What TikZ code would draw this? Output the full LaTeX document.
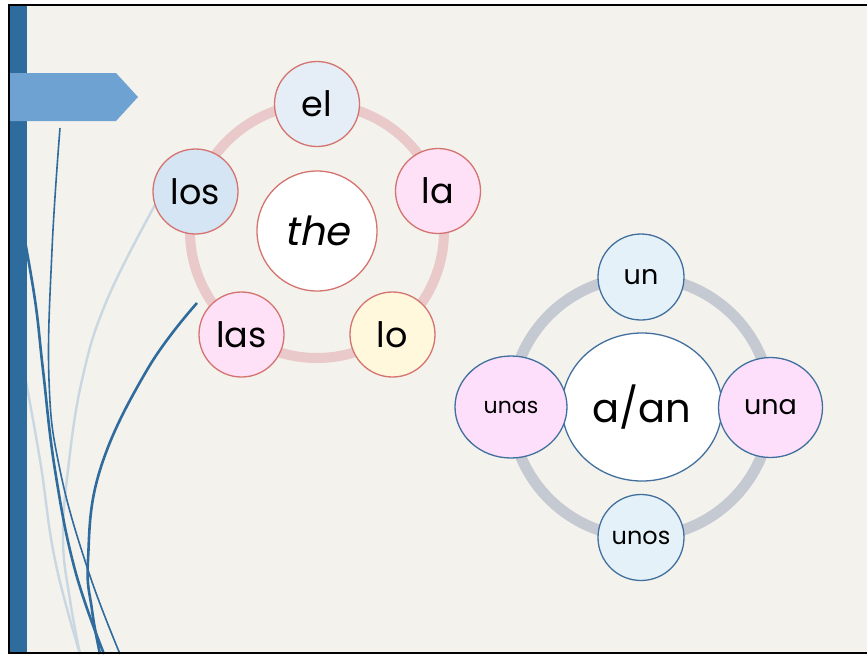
\documentclass[tikz,border=0pt]{standalone}
\usepackage{fontspec}
\setmainfont{Poppins}
\newfontfamily\slantfont[FakeSlant=0.2]{Poppins}
\usetikzlibrary{shapes.geometric}
\definecolor{bgcream}{HTML}{F4F2EC}
\definecolor{barblue}{HTML}{2D6C9C}
\definecolor{arrowblue}{HTML}{6EA2D3}
\definecolor{wispdark}{HTML}{2F6B9D}
\definecolor{wisplight}{HTML}{C9D7E2}
\definecolor{pinkring}{HTML}{E9C9C9}
\definecolor{redline}{HTML}{D4736F}
\definecolor{elfill}{HTML}{E5EEF6}
\definecolor{losfill}{HTML}{D5E5F3}
\definecolor{pinkfill}{HTML}{FEE0F7}
\definecolor{yellowfill}{HTML}{FFF8DC}
\definecolor{grayring}{HTML}{C4C9D2}
\definecolor{blueline}{HTML}{41709F}
\definecolor{unfill}{HTML}{E4F1F8}
\definecolor{unafill}{HTML}{FEDFFB}
\tikzset{
  lsat/.style={circle, draw=redline, line width=1.3pt, minimum size=85pt, inner sep=0pt,
    font=\fontsize{35}{40}\selectfont},
  rsat/.style={ellipse, draw=blueline, line width=1.3pt, inner sep=0pt},
  ringL/.style={draw=pinkring, line width=10pt},
  ringR/.style={draw=grayring, line width=11pt},
  wispd/.style={draw=wispdark, line width=2.6pt},
  wispt/.style={draw=wispdark, line width=1.6pt},
  wispl/.style={draw=wisplight, line width=2.4pt}
}
\begin{document}
\begin{tikzpicture}[x=1pt,y=-1pt]
\useasboundingbox (0,0) rectangle (867,654);
\fill[white] (0,0) rectangle (867,654);
\fill[bgcream] (9,5) rectangle (867,653);
% wisps
\draw[wispl] plot[smooth, tension=0.7] coordinates {(155,205) (107,300) (82,380) (68,470) (63,540) (70,600) (80,654)};
\draw[wispl] plot[smooth, tension=0.7] coordinates {(22,360) (40,460) (55,560) (80,654)};
\draw[wispt] plot[smooth, tension=0.7] coordinates {(60,128) (52,250) (49,380) (60,470) (88,570) (120,654)};
\draw[wispd] plot[smooth, tension=0.7] coordinates {(22,225) (35,300) (43,370) (55,470) (75,570) (104,654)};
\draw[wispd] plot[smooth, tension=0.7] coordinates {(197,303) (147,370) (100,470) (88,560) (92,610) (100,654)};
% bar and arrow
\fill[barblue] (10,5) rectangle (27,653);
\fill[arrowblue] (10,73) -- (116,73) -- (138,97) -- (116,121) -- (10,121) -- cycle;
% frame
\draw[black, line width=2pt] (867,5) -- (9,5) -- (9,652.5) -- (867,652.5);
% left ring
\coordinate (cL) at (317,231);
\draw[ringL] (cL) circle[radius=127];
\node[lsat, minimum size=120pt, fill=white, font=\fontsize{40}{46}\selectfont\slantfont] (the) at (cL) {the};
\node[lsat, fill=elfill] (el) at (317,104) {el};
\node[lsat, fill=pinkfill] (la) at (438,191) {la};
\node[lsat, fill=yellowfill] (lo) at (392.5,334.5) {lo};
\node[lsat, fill=pinkfill] (las) at (241.5,334.5) {las};
\node[lsat, fill=losfill] (los) at (195.5,191.5) {los};
% right ring
\coordinate (cR) at (641,407);
\draw[ringR] (cR) circle[radius=130];
\node[rsat, fill=white, minimum width=160pt, minimum height=148pt, font=\fontsize{40}{46}\selectfont] (aan) at (642,407) {a/an};
\node[rsat, fill=unfill, minimum width=86pt, minimum height=86pt, font=\fontsize{27}{32}\selectfont] (un) at (641,277) {un};
\node[rsat, fill=unafill, minimum width=104pt, minimum height=100pt, font=\fontsize{27}{32}\selectfont] (una) at (770.5,407.5) {una};
\node[rsat, fill=unafill, minimum width=112pt, minimum height=102pt, font=\fontsize{22}{26}\selectfont] (unas) at (511,407) {unas};
\node[rsat, fill=unfill, minimum width=86pt, minimum height=86pt, font=\fontsize{24}{28}\selectfont] (unos) at (641,537.5) {unos};
\end{tikzpicture}
\end{document}
